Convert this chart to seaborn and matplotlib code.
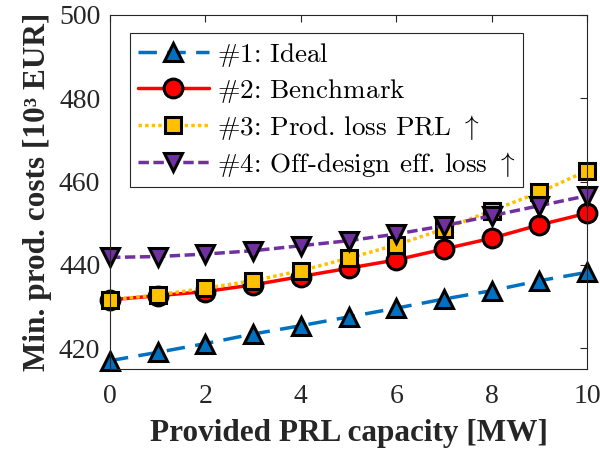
import matplotlib
matplotlib.use("Agg")
import matplotlib.pyplot as plt
import seaborn as sns
import numpy as np

# ---- data ----
capacity = [0, 1, 2, 3, 4, 5, 6, 7, 8, 9, 10]
ideal = [417.0, 419.0, 421.1, 423.4, 425.4, 427.5, 429.6, 431.8, 433.8, 436.2, 438.2]
benchmark = [431.6, 432.6, 433.6, 435.2, 437.2, 439.2, 441.2, 443.8, 446.4, 449.6, 452.4]
prod_loss = [431.6, 432.8, 434.4, 436.2, 438.6, 441.6, 444.8, 448.6, 453.0, 457.4, 462.6]
offdesign = [441.8, 442.0, 442.6, 443.4, 444.6, 445.8, 447.4, 449.4, 451.8, 454.2, 456.6]
labels = [r"$\text{#1: Ideal}$", r"$\text{#2: Benchmark}$",
          r"$\text{#3: Prod. loss PRL }\uparrow$",
          r"$\text{#4: Off-design eff. loss }\uparrow$"]
xticks = [0, 2, 4, 6, 8, 10]
yticks = [420, 440, 460, 480, 500]

sns.set_theme(style="white")
plt.rcParams["font.family"] = ["Liberation Serif", "DejaVu Serif"]
plt.rcParams["mathtext.fontset"] = "cm"
plt.rcParams["axes.unicode_minus"] = False

fig = plt.figure(figsize=(6, 4.5), dpi=100)
ax = fig.add_axes([110/600, 1-369/450, 477/600, 354/450])

dark = "#262626"
series = [
    (ideal, "#0070C0", "^", 13, (0, (5.3, 3.0))),
    (benchmark, "#FF0000", "o", 13.5, "-"),
    (prod_loss, "#FFC000", "s", 11, (0, (1, 0.9))),
    (offdesign, "#7030A0", "v", 13, (0, (3.0, 1.3))),
]
for (vals, col, mk, ms, ls), lab in zip(series, labels):
    sns.lineplot(x=capacity, y=vals, ax=ax, color=col, linewidth=2.5,
                 linestyle=ls, marker=mk, markersize=ms,
                 markerfacecolor=col, markeredgecolor="black",
                 markeredgewidth=2.2, label=lab, clip_on=False)

ax.set_xlim(0, 10)
ax.set_ylim(415, 500)
ax.set_xticks(xticks)
ax.set_yticks(yticks)
ax.tick_params(direction="in", top=True, right=True, length=5, width=0.8,
               color=dark, labelcolor=dark, labelsize=20)
ax.tick_params(axis="x", pad=11)
ax.tick_params(axis="y", pad=7)
for s in ax.spines.values():
    s.set_color(dark)
    s.set_linewidth(0.8)

ax.set_xlabel("Provided PRL capacity [MW]", fontsize=22.5, fontweight="bold",
              color=dark, labelpad=7)
ax.set_ylabel("Min. prod. costs [10³ EUR]", fontsize=22.5, fontweight="bold",
              color=dark, labelpad=5)

leg = ax.legend(loc="upper left", bbox_to_anchor=(20/477, 1-18/354),
                borderaxespad=0, prop={"size": 19.5},
                handlelength=2.65, handletextpad=0.3, labelspacing=0.3,
                borderpad=0.28, fancybox=False, framealpha=1, edgecolor=dark)
leg.get_frame().set_linewidth(0.8)
for t in leg.get_texts():
    t.set_color("black")
for h in leg.get_lines():
    h.set_linewidth(2.5)

fig.savefig("out.png", dpi=100)
